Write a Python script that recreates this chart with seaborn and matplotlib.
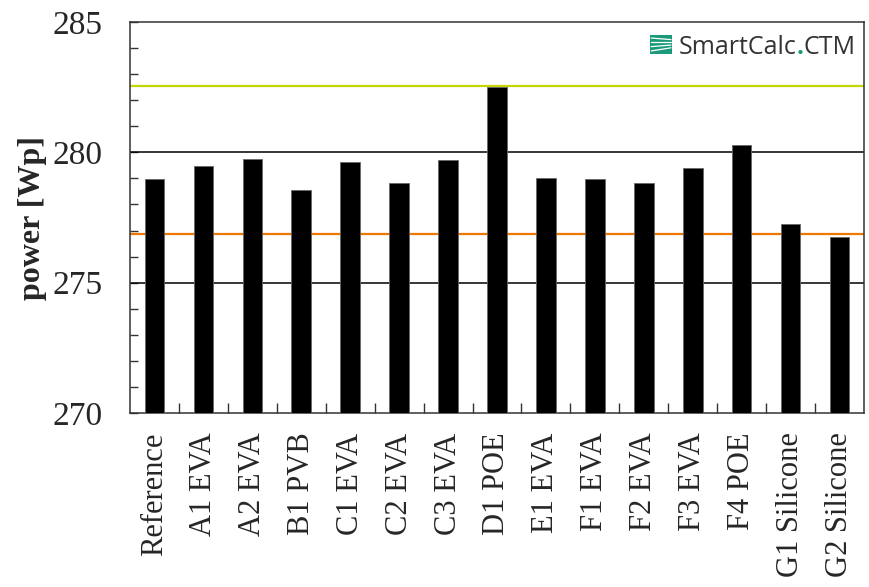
import numpy as np
import pandas as pd
import seaborn as sns
import matplotlib.pyplot as plt
from matplotlib.patches import Rectangle
from matplotlib.ticker import MultipleLocator, FixedLocator

materials = ['Reference', 'A1 EVA', 'A2 EVA', 'B1 PVB', 'C1 EVA', 'C2 EVA', 'C3 EVA',
             'D1 POE', 'E1 EVA', 'F1 EVA', 'F2 EVA', 'F3 EVA', 'F4 POE',
             'G1 Silicone', 'G2 Silicone']
power_wp = [278.97, 279.46, 279.76, 278.57, 279.62, 278.81, 279.72,
            282.52, 279.00, 278.96, 278.81, 279.41, 280.29, 277.26, 276.77]
upper_line = 282.55
lower_line = 276.85

df = pd.DataFrame({'material': materials, 'power': power_wp})

sns.set_style('ticks')
plt.rcParams['font.family'] = ['Liberation Serif', 'DejaVu Serif']

fig = plt.figure(figsize=(8.7, 5.87), dpi=100)
ax = fig.add_axes([130 / 870, 1 - 413 / 587, 734 / 870, 391 / 587])

ax.axhline(275, color='black', lw=1.1, zorder=1)
ax.axhline(280, color='black', lw=1.1, zorder=1)
ax.axhline(lower_line, color='#f07800', lw=1.6, zorder=1)
ax.axhline(upper_line, color='#c4d600', lw=1.6, zorder=1)

sns.barplot(data=df, x='material', y='power', color='black', width=0.4,
            edgecolor='#666666', linewidth=0.6, saturation=1, ax=ax, zorder=3)

ax.set_ylim(270, 285)
ax.set_xlim(-0.5, len(materials) - 0.5)
ax.set_yticks([270, 275, 280, 285])
ax.yaxis.set_minor_locator(MultipleLocator(1))
ax.xaxis.set_minor_locator(FixedLocator(np.arange(0.5, len(materials) - 1, 1)))

ax.tick_params(axis='y', which='both', direction='in', length=6, width=1,
               color='#333333', right=False)
ax.tick_params(axis='y', which='major', labelsize=24, pad=20)
ax.tick_params(axis='x', which='major', length=0, labelsize=22, pad=14)
ax.tick_params(axis='x', which='minor', direction='in', length=7, width=1,
               color='#333333', top=False)
plt.setp(ax.get_xticklabels(), rotation=90)

for s in ax.spines.values():
    s.set_visible(True)
    s.set_color('#333333')
    s.set_linewidth(1.1)

ax.set_xlabel('')
ax.set_ylabel('power [Wp]', fontsize=23, fontweight='bold')
ax.yaxis.set_label_coords(-0.113, 0.5)

# logo
logo_font = ['Open Sans', 'DejaVu Sans']
logo = ax.text(0.747, 0.918, 'SmartCalc', transform=ax.transAxes, fontsize=18,
               family=logo_font, color='#333333', va='baseline')
dot = ax.annotate('.', xy=(1, 0), xycoords=logo, va='bottom', fontsize=18,
                  family=logo_font, color='#1a9a7a', fontweight='bold')
ax.annotate('CTM', xy=(1, 0), xycoords=dot, va='bottom', fontsize=18,
            family=logo_font, color='#333333')
icon = Rectangle((0.708, 0.918), 0.031, 0.050, transform=ax.transAxes,
                 facecolor='#1a9a7a', edgecolor='none', zorder=5)
ax.add_patch(icon)
for k in range(4):
    y0 = 0.926 + k * 0.011
    ax.plot([0.710, 0.737], [y0, y0 + 0.008 - k * 0.004], transform=ax.transAxes,
            color='white', lw=0.9, zorder=6)

fig.savefig('out.png', dpi=100)
